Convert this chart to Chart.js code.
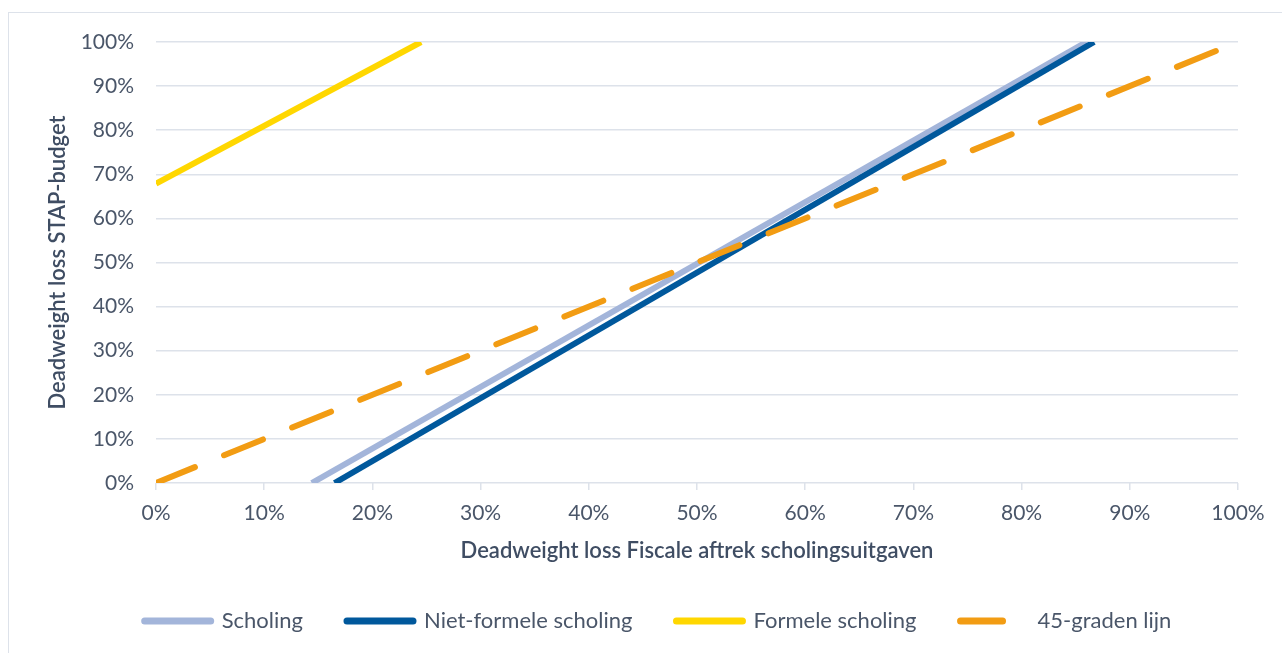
<!DOCTYPE html>
<html lang="nl">
<head>
    <meta charset="UTF-8">
    <title>Deadweight loss</title>
    <style>
        html, body {
            margin: 0;
            padding: 0;
            background: #ffffff;
            overflow: hidden;
        }
        #frame {
            position: absolute;
            left: 8px;
            top: 12px;
            width: 1400px;
            height: 700px;
            border: 1.5px solid #dde2ea;
        }
        #wrap {
            position: absolute;
            left: 0;
            top: 0;
            width: 1282px;
            height: 653px;
        }
    </style>
    <script src="https://cdn.jsdelivr.net/npm/chart.js@4.4.1/dist/chart.umd.min.js"></script>
</head>
<body>
    <div id="frame"></div>
    <div id="wrap"><canvas id="dwChart" width="1282" height="653"></canvas></div>

    <script>
        // values (percent)
        const scholingX = [14.4, 86.0];
        const scholingY = [0, 100];
        const nietFormeelX = [16.5, 86.7];
        const nietFormeelY = [0, 100];
        const formeelX = [0, 24.5];
        const formeelY = [67.9, 100];
        const lijnX = [0, 100];
        const lijnY = [0, 100];

        const labels = ['Scholing', 'Niet-formele scholing', 'Formele scholing', '45-graden lijn'];
        const colors = ['#a3b5da', '#00589c', '#ffd700', '#f29c13'];

        const textColor = '#4a5669';
        const titleColor = '#3f4d63';
        const gridColor = '#dde2ea';
        const font = 'Lato, "Open Sans", sans-serif';

        function toPoints(xs, ys) {
            return xs.map((x, i) => ({ x: x, y: ys[i] }));
        }

        // nudge the bottom legend so it sits where the original one does
        const legendShift = {
            id: 'legendShift',
            afterLayout(chart) {
                const d = 39;
                chart.legend.left += d;
                chart.legend.right += d;
            }
        };

        const ctx = document.getElementById('dwChart').getContext('2d');
        new Chart(ctx, {
            type: 'line',
            data: {
                datasets: [
                    { label: labels[0], data: toPoints(scholingX, scholingY), borderColor: colors[0], borderWidth: 6, order: 4 },
                    { label: labels[1], data: toPoints(nietFormeelX, nietFormeelY), borderColor: colors[1], borderWidth: 6, order: 3 },
                    { label: labels[2], data: toPoints(formeelX, formeelY), borderColor: colors[2], borderWidth: 6, order: 2 },
                    { label: labels[3], data: toPoints(lijnX, lijnY), borderColor: colors[3], borderWidth: 6,
                      borderDash: [42, 31.5], borderCapStyle: 'round', order: 1 }
                ]
            },
            options: {
                responsive: false,
                animation: false,
                events: [],
                datasets: {
                    line: { pointRadius: 0, tension: 0, fill: false, clip: 0 }
                },
                layout: {
                    padding: { left: 0, right: 44, top: 42, bottom: 11 }
                },
                scales: {
                    x: {
                        type: 'linear',
                        min: 0,
                        max: 100,
                        afterFit: (scale) => { scale.height = 83; },
                        ticks: {
                            stepSize: 10,
                            padding: 11,
                            color: textColor,
                            font: { family: font, size: 21 },
                            callback: (v) => v + '%'
                        },
                        grid: {
                            drawOnChartArea: false,
                            drawTicks: true,
                            tickLength: 7,
                            color: gridColor,
                            lineWidth: 1.5
                        },
                        border: { display: false },
                        title: {
                            display: true,
                            text: 'Deadweight loss Fiscale aftrek scholingsuitgaven',
                            color: titleColor,
                            font: { family: font, size: 22, weight: '600' },
                            padding: { top: 0, bottom: 2 }
                        }
                    },
                    y: {
                        type: 'linear',
                        min: 0,
                        max: 100,
                        afterFit: (scale) => { scale.width = 156; },
                        ticks: {
                            stepSize: 10,
                            padding: 22,
                            color: textColor,
                            font: { family: font, size: 21 },
                            callback: (v) => v + '%'
                        },
                        grid: {
                            drawTicks: false,
                            color: gridColor,
                            lineWidth: 1.5
                        },
                        border: { display: false },
                        title: {
                            display: true,
                            text: 'Deadweight loss STAP-budget',
                            color: titleColor,
                            font: { family: font, size: 22, weight: '600' },
                            padding: { top: 45, bottom: 0 }
                        }
                    }
                },
                plugins: {
                    tooltip: { enabled: false },
                    legend: {
                        position: 'bottom',
                        labels: {
                            color: textColor,
                            font: { family: font, size: 22 },
                            usePointStyle: true,
                            pointStyle: 'line',
                            pointStyleWidth: 66,
                            padding: 44,
                            sort: (a, b) => a.datasetIndex - b.datasetIndex,
                            generateLabels: (chart) => {
                                const items = Chart.defaults.plugins.legend.labels.generateLabels(chart);
                                items.forEach(item => {
                                    const ds = chart.data.datasets[item.datasetIndex];
                                    item.lineWidth = 7;
                                    item.lineCap = 'round';
                                    item.lineDash = ds.borderDash || [];
                                });
                                return items;
                            }
                        }
                    }
                }
            },
            plugins: [legendShift]
        });
    </script>
</body>
</html>
